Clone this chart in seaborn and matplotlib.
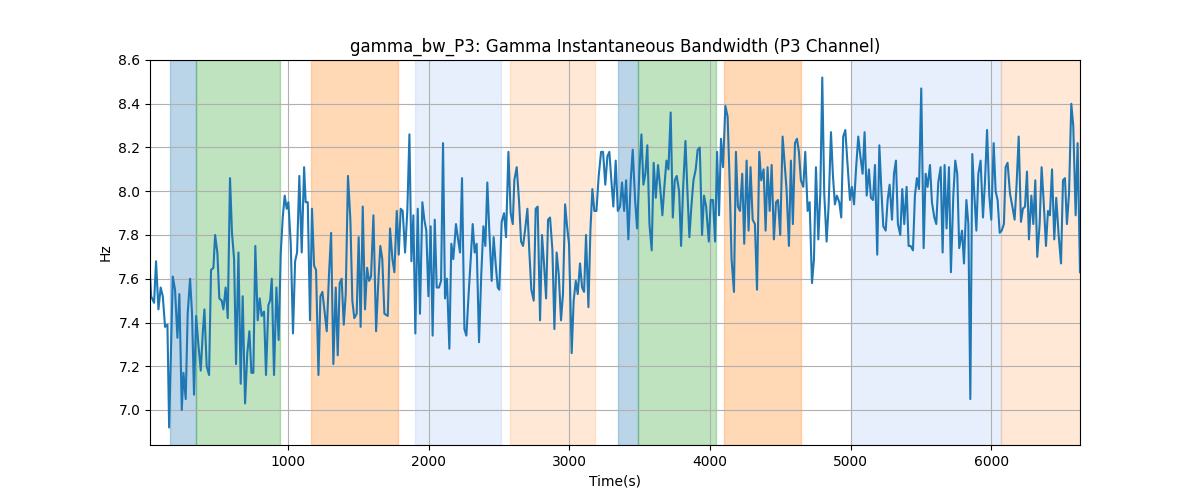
import matplotlib

matplotlib.use("Agg")
import matplotlib.pyplot as plt
import numpy as np
import pandas as pd
import seaborn as sns

# time axis (s) and bandwidth (Hz)
time_s = [
    18, 26, 47, 61, 78, 94, 109, 125, 142, 154, 180, 196, 213, 227, 244, 256, 272, 286, 303, 317,
    331, 346, 362, 379, 393, 405, 421, 438, 452, 469, 481, 497, 511, 528, 540, 556, 571, 587, 601, 616,
    630, 647, 663, 677, 694, 710, 725, 739, 753, 767, 784, 798, 812, 829, 843, 860, 872,
    884, 900, 917, 933, 948, 962, 976, 990, 1002, 1019, 1035, 1050, 1064, 1080, 1097, 1114, 1125, 1140,
    1156, 1170, 1185, 1199, 1216, 1230, 1244, 1258, 1275, 1291, 1306, 1322, 1339, 1353, 1367, 1381,
    1396, 1410, 1426, 1443, 1457, 1471, 1488, 1502, 1516, 1531, 1547, 1562, 1576, 1590, 1607, 1626,
    1642, 1656, 1670, 1685,
    1709, 1725, 1742, 1756, 1773, 1787, 1801, 1815, 1832, 1848, 1863, 1877, 1891, 1905, 1922, 1938,
    1955, 1969, 1983, 1998, 2014, 2028, 2043, 2057, 2073, 2088, 2102, 2116, 2130, 2147, 2161, 2175,
    2194, 2209, 2223, 2237, 2254, 2268, 2284, 2299, 2313, 2327, 2341, 2358, 2374, 2389, 2403, 2417,
    2431, 2448, 2462, 2476, 2491, 2502,
    2519, 2536, 2550, 2567, 2583, 2598, 2609, 2626, 2643, 2657, 2671, 2685, 2702, 2716, 2730, 2747,
    2761, 2775, 2792, 2806, 2820, 2835, 2849, 2863, 2880, 2894, 2910, 2925, 2941, 2955, 2970, 2984,
    2998, 3017, 3031, 3046, 3060, 3076, 3091, 3105, 3119, 3136, 3150, 3164, 3178, 3193, 3209, 3226,
    3240, 3256, 3271, 3285, 3299, 3313,
    3330, 3345, 3361, 3375, 3390, 3404, 3420, 3437, 3451, 3468, 3482, 3499, 3513, 3527, 3541, 3555,
    3570, 3586, 3600, 3615, 3631, 3646, 3662, 3676, 3691, 3705, 3721, 3736, 3750, 3764, 3781, 3795,
    3809, 3826, 3840, 3854, 3868, 3883, 3899, 3913, 3928, 3944, 3958, 3973, 3992, 4006, 4022, 4037,
    4051, 4065, 4079, 4093, 4110,
    4126, 4140, 4154, 4171, 4185, 4199, 4214, 4230, 4244, 4261, 4275, 4289, 4304, 4320, 4335, 4351,
    4365, 4382, 4396, 4410, 4425, 4439, 4455, 4470, 4484, 4500, 4517, 4531, 4545, 4562, 4576, 4590,
    4605, 4619, 4633, 4647, 4664, 4678, 4695, 4709, 4726, 4740, 4754, 4771, 4785, 4799, 4813, 4830,
    4844, 4861, 4875, 4889, 4903, 4920, 4934, 4948,
    4963, 4977, 4996, 5010, 5025, 5039, 5055, 5070, 5086, 5100, 5115, 5131, 5145, 5160, 5174, 5190,
    5205, 5219, 5233, 5250, 5264, 5278, 5295, 5309, 5323, 5337, 5354, 5368, 5382, 5399, 5413, 5427,
    5444, 5458, 5472, 5487, 5503, 5520, 5534, 5548, 5565, 5579, 5596, 5610, 5624, 5641, 5655, 5669,
    5683, 5700, 5714, 5731, 5745, 5759, 5773,
    5793, 5807, 5824, 5838, 5852, 5866, 5880, 5895, 5909, 5925, 5942, 5956, 5971, 5987, 6001, 6018,
    6032, 6046, 6061, 6075, 6091, 6103, 6117, 6134, 6151, 6167, 6181, 6196, 6212, 6226, 6241, 6255,
    6269, 6286, 6300, 6314, 6328, 6345, 6359, 6373, 6390, 6404, 6418, 6433, 6449, 6463, 6480, 6497,
    6511, 6525, 6539, 6554, 6570, 6584, 6601, 6615, 6632,
]

bw_hz = [
    7.62, 7.52, 7.49, 7.68, 7.46, 7.56, 7.52, 7.38, 7.39, 6.92, 7.61, 7.55, 7.33, 7.53, 7.00, 7.17, 7.05, 7.44, 7.60, 7.44,
    7.07, 7.43, 7.30, 7.18, 7.35, 7.46, 7.20, 7.16, 7.64, 7.65, 7.80, 7.72, 7.51, 7.50, 7.46, 7.56, 7.42, 8.06, 7.81, 7.69,
    7.21, 7.72, 7.12, 7.52, 7.03, 7.26, 7.36, 7.17, 7.17, 7.75, 7.41, 7.51, 7.43, 7.45, 7.16, 7.48, 7.50,
    7.60, 7.16, 7.56, 7.32, 7.72, 7.88, 7.98, 7.92, 7.95, 7.76, 7.35, 7.68, 7.72, 8.07, 7.72, 8.11, 7.95, 7.95,
    7.41, 7.92, 7.66, 7.64, 7.16, 7.52, 7.54, 7.46, 7.36, 7.62, 7.81, 7.21, 7.56, 7.25, 7.58, 7.60,
    7.39, 7.53, 8.07, 7.87, 7.50, 7.42, 7.44, 7.79, 7.38, 7.93, 7.46, 7.65, 7.59, 7.61, 7.89, 7.36,
    7.59, 7.75, 7.69, 7.44,
    7.43, 7.83, 7.69, 7.63, 7.91, 7.71, 7.92, 7.91, 7.72, 7.91, 8.26, 7.68, 7.89, 7.35, 7.92, 7.44,
    7.95, 7.87, 7.82, 7.52, 7.84, 7.34, 7.87, 7.56, 7.56, 7.59, 8.22, 7.51, 7.60, 7.28, 7.76, 7.69,
    7.85, 7.78, 7.72, 8.06, 7.37, 7.34, 7.53, 7.69, 7.85, 7.72, 7.76, 7.31, 7.62, 7.84, 7.75, 8.04,
    7.82, 7.59, 7.79, 7.67, 7.56, 7.55,
    7.86, 7.90, 7.79, 8.18, 7.90, 7.85, 8.05, 8.11, 7.95, 7.77, 7.75, 7.82, 7.92, 7.72, 7.55, 7.50,
    7.92, 7.93, 7.41, 7.80, 7.67, 7.51, 7.87, 7.88, 7.73, 7.37, 7.72, 7.62, 7.41, 7.53, 7.94, 7.84,
    7.76, 7.26, 7.50, 7.59, 7.53, 7.67, 7.56, 7.54, 7.80, 7.47, 7.82, 8.01, 7.91, 7.91, 8.07, 8.18,
    8.18, 8.03, 8.16, 8.18, 8.05, 7.93,
    8.14, 7.91, 7.93, 8.04, 7.91, 8.05, 7.78, 8.05, 8.19, 7.96, 7.83, 8.10, 8.26, 8.03, 8.08, 8.21,
    7.85, 7.73, 8.13, 7.97, 8.12, 8.02, 7.89, 8.02, 8.14, 8.10, 8.36, 7.88, 8.05, 8.07, 8.00, 7.75,
    8.01, 8.23, 8.00, 7.79, 7.93, 8.05, 8.10, 8.19, 8.20, 7.80, 7.98, 7.93, 7.77, 7.96, 7.96, 7.77,
    8.18, 7.89, 8.24, 8.11, 8.39,
    8.34, 8.05, 7.69, 7.54, 8.18, 7.93, 7.91, 8.08, 7.76, 8.14, 7.82, 8.11, 7.87, 7.85, 7.55, 8.18,
    8.05, 8.10, 7.82, 8.11, 7.91, 8.12, 7.78, 7.95, 7.96, 7.80, 8.25, 8.13, 8.01, 7.75, 8.14, 7.85,
    8.22, 8.24, 8.18, 8.05, 8.02, 8.18, 7.91, 7.95, 7.58, 7.69, 8.11, 7.78, 7.99, 8.52, 7.99, 7.77,
    7.93, 8.27, 8.07, 7.94, 7.98, 7.95, 7.88, 8.25,
    8.28, 8.14, 7.96, 8.02, 7.94, 8.10, 8.25, 8.16, 8.08, 8.27, 7.98, 8.10, 7.97, 7.96, 8.12, 7.71,
    8.21, 8.01, 7.84, 7.82, 7.96, 8.03, 7.87, 8.08, 8.14, 7.85, 7.80, 8.01, 7.85, 8.02, 7.75, 7.75,
    7.73, 7.98, 8.06, 8.01, 8.47, 7.74, 8.08, 8.02, 8.12, 7.95, 7.88, 7.85, 8.04, 8.11, 7.72, 8.12,
    7.83, 8.11, 7.63, 7.98, 8.14, 8.08, 7.74,
    7.82, 7.67, 7.96, 7.85, 7.05, 8.17, 7.99, 7.82, 8.08, 8.14, 7.88, 8.04, 8.28, 7.98, 7.87, 8.22,
    8.00, 7.96, 7.81, 7.82, 7.85, 8.11, 8.13, 7.99, 7.93, 7.87, 8.03, 8.25, 7.86, 7.92, 7.93, 8.09,
    7.78, 7.98, 7.85, 8.05, 7.70, 7.85, 8.11, 7.96, 7.75, 7.91, 7.89, 8.10, 7.78, 7.97, 7.80, 7.67,
    8.05, 8.06, 7.85, 7.99, 8.40, 8.30, 7.89, 8.22, 7.63,
]

# shaded intervals (s)
span_start = [161, 346, 1163, 1903, 2579, 3349, 3491, 4101, 5004, 6071]
span_end = [346, 943, 1783, 2515, 3184, 3491, 4044, 4649, 6071, 6632]
span_kind = ["a", "b", "c", "d", "e", "a", "b", "c", "d", "e"]

SPAN_STYLE = {
    "a": ("tab:blue", 0.3),
    "b": ("tab:green", 0.3),
    "c": ("tab:orange", 0.3),
    "d": ("cornflowerblue", 0.15),
    "e": ("tab:orange", 0.17),
}


def main() -> None:
    df = pd.DataFrame({"time": time_s, "bw": bw_hz})

    fig, ax = plt.subplots(figsize=(12, 5), dpi=100)

    for start, end, kind in zip(span_start, span_end, span_kind):
        color, alpha = SPAN_STYLE[kind]
        ax.axvspan(start, end, color=color, alpha=alpha)

    sns.lineplot(data=df, x="time", y="bw", color="tab:blue", linewidth=1.5, ax=ax)

    ax.set_xlim(df["time"].min(), df["time"].max())
    ax.grid(True)
    ax.set_title("gamma_bw_P3: Gamma Instantaneous Bandwidth (P3 Channel)")
    ax.set_xlabel("Time(s)")
    ax.set_ylabel("Hz")

    fig.savefig("out.png", dpi=100)
    plt.close(fig)


if __name__ == "__main__":
    main()
